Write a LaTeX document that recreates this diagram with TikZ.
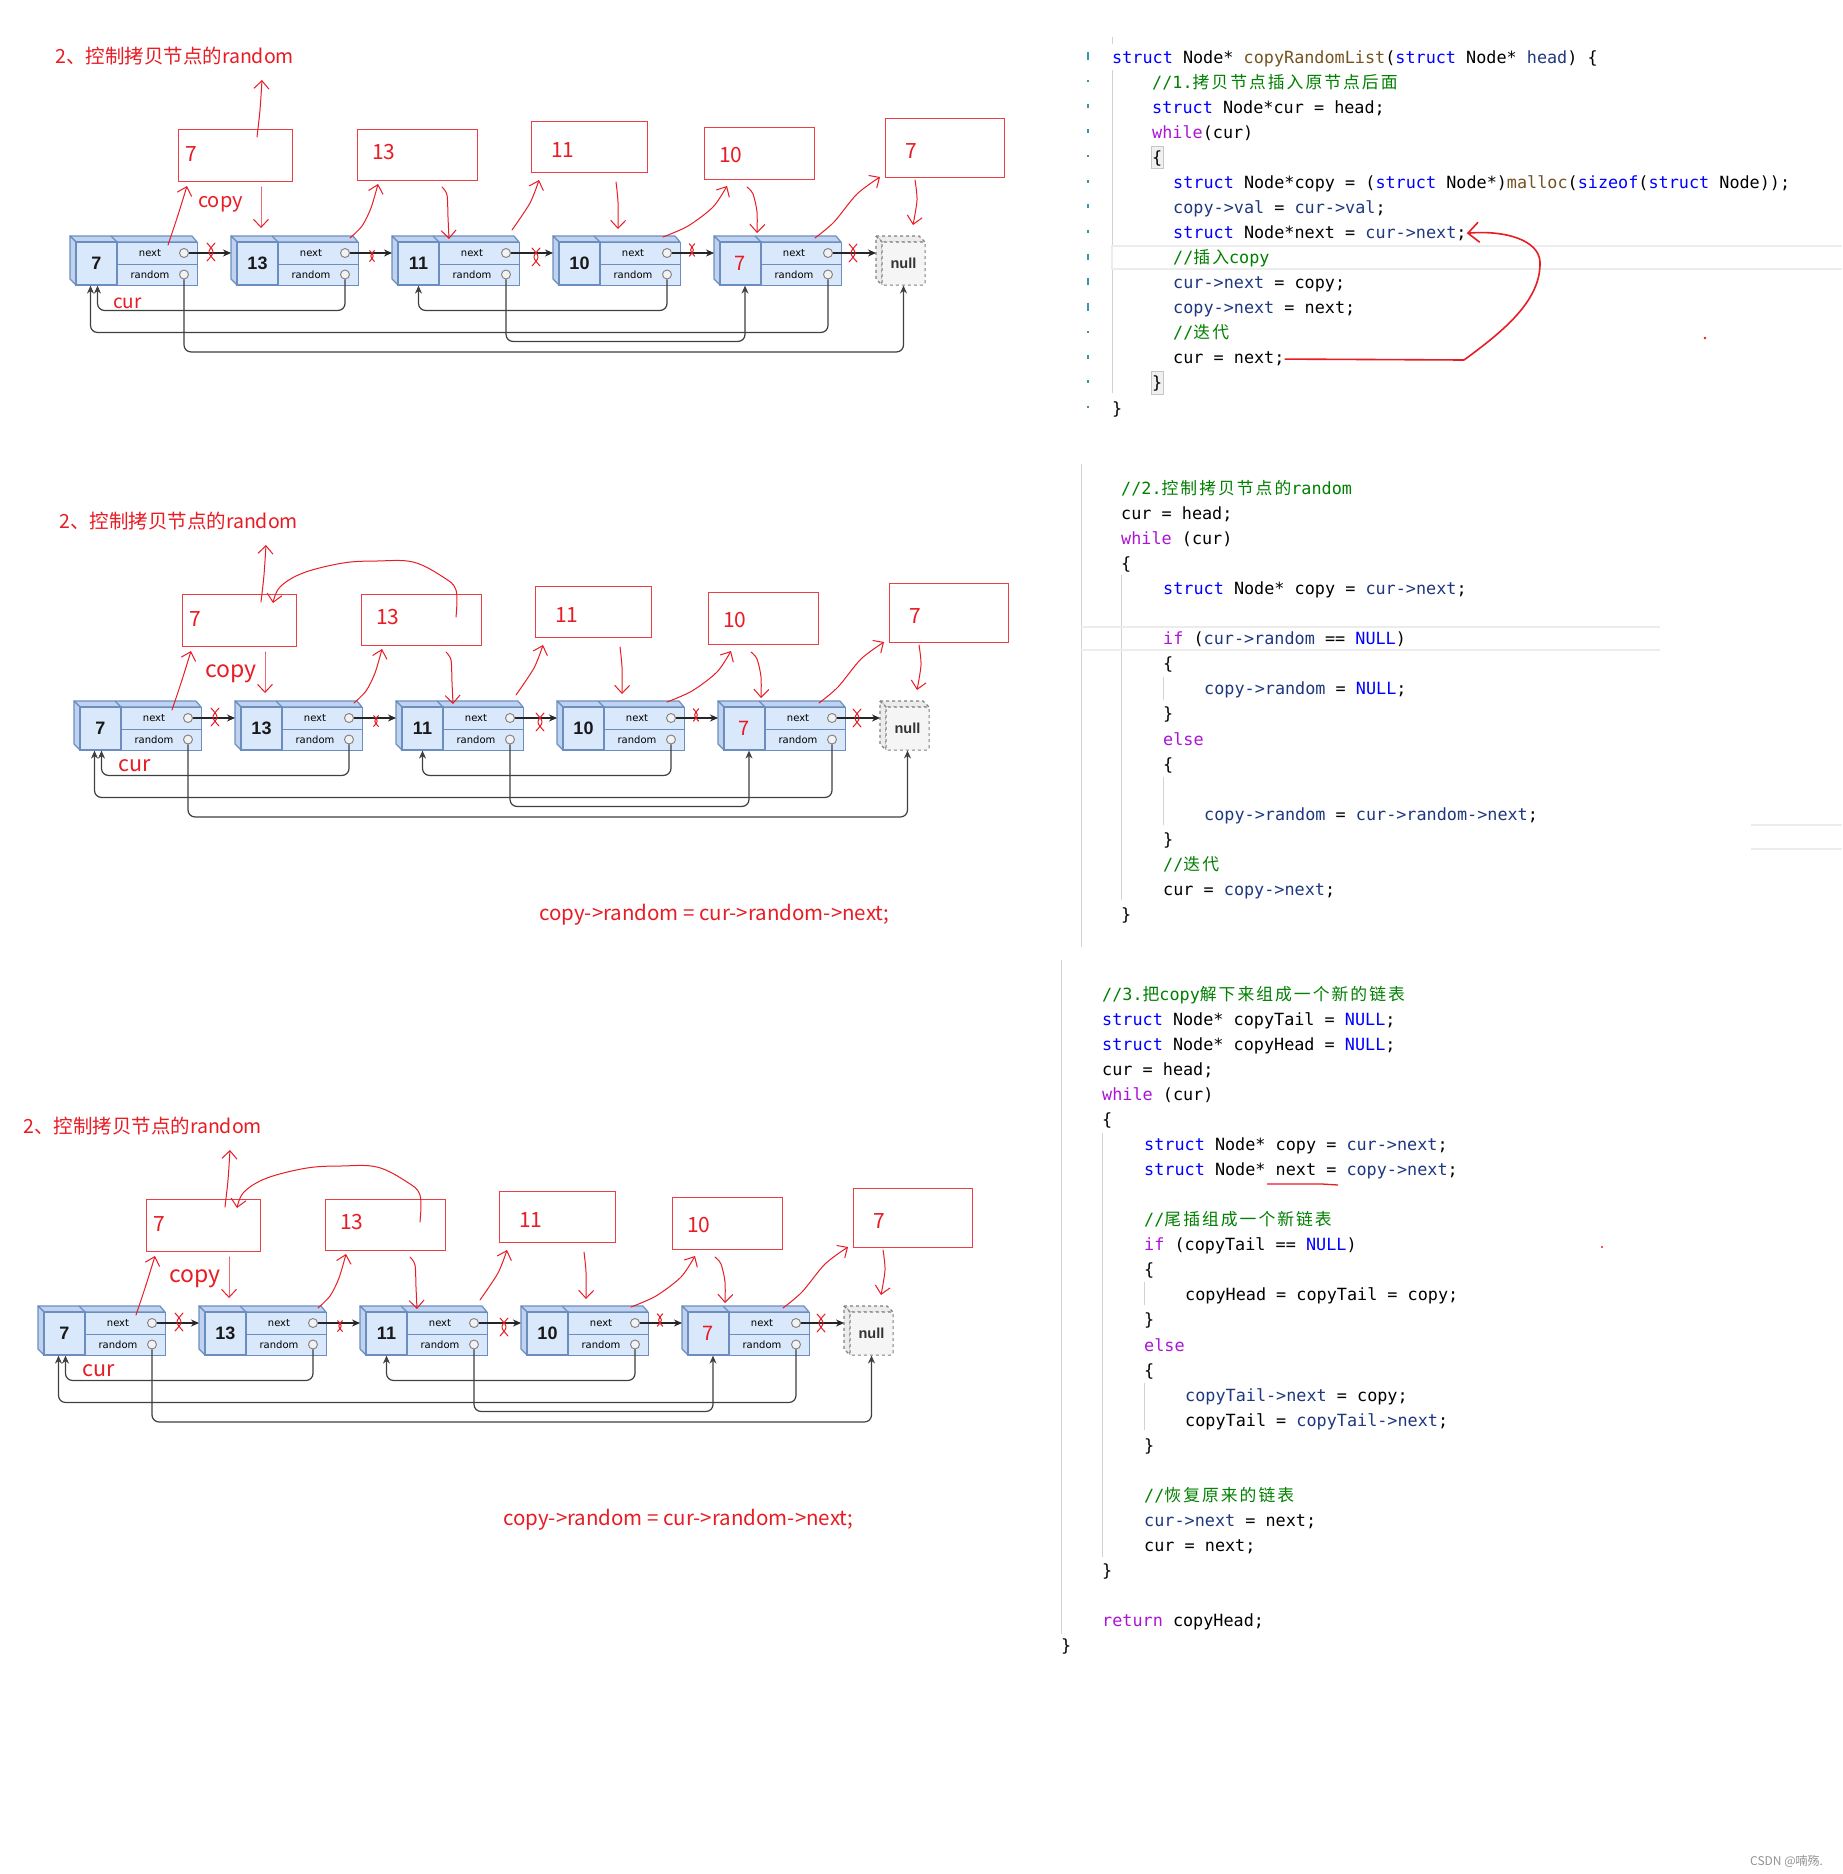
\documentclass[tikz,border=0pt]{standalone}
\usepackage{fontspec}
\usetikzlibrary{arrows.meta,calc}

\newfontfamily\codefont{DejaVu Sans Mono}
\newfontfamily\codecjk[LetterSpace=12]{Noto Sans CJK SC}
\newfontfamily\annfont{Noto Sans CJK SC}
\newfontfamily\cellfont{DejaVu Sans}
\newfontfamily\numfont{Liberation Sans}

\definecolor{annot}{RGB}{232,28,36}
\definecolor{nodefill}{HTML}{DAE8FC}
\definecolor{nodeside}{HTML}{BFD3F0}
\definecolor{nodeedge}{HTML}{6C8EBF}
\definecolor{kwblue}{RGB}{0,0,255}
\definecolor{varblue}{RGB}{31,55,127}
\definecolor{ctlpurple}{RGB}{170,20,215}
\definecolor{cmgreen}{RGB}{0,128,0}
\definecolor{fnbrown}{RGB}{116,83,31}
\definecolor{gutter}{RGB}{60,150,170}

% code colouring
\newcommand{\ckw}[1]{\textcolor{kwblue}{#1}}
\newcommand{\cctl}[1]{\textcolor{ctlpurple}{#1}}
\newcommand{\cvar}[1]{\textcolor{varblue}{#1}}
\newcommand{\ccm}[1]{\textcolor{cmgreen}{#1}}
\newcommand{\cfn}[1]{\textcolor{fnbrown}{#1}}
\newcommand{\czh}[1]{{\codecjk #1}}

% one list with its copies, #1 = name prefix
\newcommand{\linkedlist}[1]{%
  \foreach \val/\vsty [count=\i] in {7/valnum,13/valnum,11/valnum,10/valnum,7/valred}{%
    \pgfmathsetmacro{\X}{76+161*(\i-1)}
    \draw[face] (\X-6,236) -- (\X+116,236) -- (\X+121,242) -- (\X,242) -- cycle;
    \draw[face] (\X-6,236) -- (\X,242) -- (\X,285) -- (\X-6,279) -- cycle;
    \draw[nodeedge, line width=1.2pt] (\X+35,236) -- (\X+41,242);
    \node[valcell, \vsty] (#1v\i) at (\X+20.5,263.5) {\val};
    \node[fldcell, anchor=north west] (#1nx\i) at (\X+41,242) {};
    \node[fldcell, anchor=north west] (#1rd\i) at (\X+41,263.5) {};
    \node[fldtext] at (\X+74,253) {next};
    \node[fldtext] at (\X+74,274.5) {random};
    \node[hole] (#1nc\i) at (\X+108,253) {};
    \node[hole] (#1rc\i) at (\X+108,274.5) {};
    \coordinate (#1in\i) at (\X-6,253);
  }
  % null
  \draw[face, dashed, fill=gray!15, draw=gray] (876,236) -- (919,236) -- (925,242) -- (882,242) -- cycle;
  \draw[face, dashed, fill=gray!15, draw=gray] (876,236) -- (882,242) -- (882,285) -- (876,279) -- cycle;
  \node[nullbox] (#1null) at (903.5,263.5) {null};
  \coordinate (#1in6) at (876,253);
  % next pointers
  \foreach \i/\j in {1/2,2/3,3/4,4/5}
    \draw[nextarrow] (#1nc\i.east) -- (#1in\j);
  \draw[nextarrow, line width=1.6pt] (#1nc5.east) -- (#1in6);
  % random pointers
  \draw[randarrow] (#1rc2.south) -- ++(0,31) -| ([xshift=1pt]#1v1.south);
  \draw[randarrow] (#1rc1.south) -- ++(0,72.5) -| (#1null.south);
  \draw[randarrow] (#1rc5.south) -- ++(0,53) -| ([xshift=-6pt]#1v1.south);
  \draw[randarrow] (#1rc3.south) -- ++(0,62) -| ([xshift=4.5pt]#1v5.south);
  \draw[randarrow] (#1rc4.south) -- ++(0,31) -| (#1v3.south);
  % copies
  \node[cpbox, minimum width=114pt, minimum height=52pt] (#1c1) at (235,155) {};
  \node[cpbox, minimum width=120pt, minimum height=51pt] (#1c2) at (417,154.5) {};
  \node[cpbox, minimum width=116pt, minimum height=51pt] (#1c3) at (589,146.5) {};
  \node[cpbox, minimum width=110pt, minimum height=52pt] (#1c4) at (759,153) {};
  \node[cpbox, minimum width=119pt, minimum height=59pt] (#1c5) at (944.5,147.5) {};
  \node[cptext] at (185,161) {7};
  \node[cptext] at (372,159) {13};
  \node[cptext] at (551,157) {11};
  \node[cptext] at (719,162) {10};
  \node[cptext] at (905,158) {7};
  % hand strokes
  \draw[handarr] plot[smooth] coordinates {(257,137) (260,110) (262,80)};
  \draw[handarr] plot[smooth] coordinates {(261,187) (261,205) (261,228)};
  \draw[handarr] plot[smooth] coordinates {(168,245) (178,215) (187,186)};
  \draw[handarr] plot[smooth] coordinates {(350,238) (362,226) (371,208) (378,184)};
  \draw[handarr] plot[smooth] coordinates {(442,187) (447,195) (448,217) (449,239)};
  \draw[handarr] plot[smooth] coordinates {(512,230) (530,203) (539,180)};
  \draw[handarr] plot[smooth] coordinates {(616,182) (618,202) (618,229)};
  \draw[handarr] plot[smooth] coordinates {(663,237) (688,226) (713,207) (727,186)};
  \draw[handarr] plot[smooth] coordinates {(747,187) (753,194) (757,212) (757,233)};
  \draw[handarr] plot[smooth] coordinates {(815,238) (834,222) (857,194) (880,177)};
  \draw[handarr] plot[smooth] coordinates {(915,180) (917,200) (913,225)};
  \pic at (211,252) {redcut};
  \pic[scale=0.6] at (372,256) {redcut};
  \pic at (536,257) {redcut};
  \pic[scale=0.7] at (692,250) {redcut};
  \pic at (853,253) {redcut};
  \node[title] (#1title) at (55,63) {2、控制拷贝节点的random};
}

\begin{document}
\begin{tikzpicture}[x=1pt, y=-1pt,
  face/.style={fill=nodeside, draw=nodeedge, line width=1.2pt, line join=round},
  valcell/.style={draw=nodeedge, fill=nodefill, line width=1.2pt, minimum width=41pt, minimum height=43pt, inner sep=0pt},
  valnum/.style={font=\numfont\fontsize{18}{18}\selectfont\bfseries, text=black!90},
  valred/.style={font=\annfont\fontsize{20}{20}\selectfont, text=annot},
  fldcell/.style={draw=nodeedge, fill=nodefill, line width=1.2pt, minimum width=80pt, minimum height=21.5pt, inner sep=0pt},
  fldtext/.style={font=\cellfont\fontsize{10}{10}\selectfont, inner sep=0pt},
  hole/.style={circle, draw=gray, fill=gray!10, line width=0.9pt, minimum size=9pt, inner sep=0pt},
  nullbox/.style={draw=gray, dashed, fill=gray!8, line width=1pt, rounded corners=2pt, minimum width=43pt, minimum height=43pt, inner sep=0pt, font=\numfont\fontsize{14.5}{14.5}\selectfont\bfseries, text=black!80},
  nextarrow/.style={draw=black!85, line width=1.1pt, -{Stealth[length=8pt,width=7pt]}},
  randarrow/.style={draw=black!75, line width=1.2pt, rounded corners=7pt, -{Stealth[length=8pt,width=7pt]}},
  cpbox/.style={draw=annot!85, line width=1pt, inner sep=0pt},
  cptext/.style={font=\annfont\fontsize{21}{21}\selectfont, text=annot, inner sep=0pt, anchor=base west},
  lbl/.style={text=annot, inner sep=0pt, anchor=base west},
  title/.style={font=\annfont\fontsize{19.5}{19.5}\selectfont, text=annot, inner sep=0pt, anchor=base west},
  hand/.style={draw=annot, line width=1pt, line cap=round, line join=round},
  handarr/.style={hand, -{Straight Barb[length=8pt,width=15pt]}},
  redcut/.pic={\draw[hand] (-4,-9) .. controls (4,0) .. (-4,9);
                \draw[hand] (4,-9) .. controls (-4,0) .. (4,9);},
  code/.style={font=\codefont\fontsize{16.8}{16.8}\selectfont, inner sep=0pt, anchor=base west},
  guide/.style={draw=gray!35, line width=1pt},
  curline/.style={draw=gray!15, line width=2pt},
]
\fill[white] (0,0) rectangle (1842,1874);
\useasboundingbox (0,0) rectangle (1842,1874);

% ---- list 1
\begin{scope}
  \linkedlist{a}
  \node[lbl, font=\annfont\fontsize{20}{20}\selectfont] (acopy) at (198,207) {copy};
  \node[lbl, font=\annfont\fontsize{19}{19}\selectfont] (acur) at (113,308) {cur};
\end{scope}

% ---- list 2
\begin{scope}[shift={(4,465)}]
  \linkedlist{b}
  \node[lbl, font=\annfont\fontsize{23}{23}\selectfont] (bcopy) at (201,212) {copy};
  \node[lbl, font=\annfont\fontsize{21.5}{21.5}\selectfont] (bcur) at (114,306) {cur};
  \draw[handarr] plot[smooth, tension=0.6] coordinates {(452,152) (452,125) (439,112) (409,97) (373,96) (339,98) (299,108) (276,122) (269,138)};
  \node[lbl, font=\annfont\fontsize{20.5}{20.5}\selectfont] (bnote) at (535,455) {copy->random = cur->random->next;};
\end{scope}

% ---- list 3
\begin{scope}[shift={(-32,1070)}]
  \linkedlist{c}
  \node[lbl, font=\annfont\fontsize{23}{23}\selectfont] (ccopy) at (201,212) {copy};
  \node[lbl, font=\annfont\fontsize{21.5}{21.5}\selectfont] (ccur) at (114,306) {cur};
  \draw[handarr] plot[smooth, tension=0.6] coordinates {(452,152) (452,125) (439,112) (409,97) (373,96) (339,98) (299,108) (276,122) (269,138)};
  \node[lbl, font=\annfont\fontsize{20.5}{20.5}\selectfont] (cnote) at (535,455) {copy->random = cur->random->next;};
\end{scope}

% ---- code 1
\draw[guide] (1112,37) -- (1112,44) (1112,70) -- (1112,393);
\draw[curline] (1842,246) -- (1112,246) -- (1112,269) -- (1842,269);
\draw[fill=gray!12, draw=gray!45] (1151,146) rectangle (1163,168);
\draw[fill=gray!12, draw=gray!45] (1151,371) rectangle (1163,394);
\foreach \k/\h in {1/8,2/2,3/4,4/4,5/2,6/3,7/4,8/3,9/6,10/7,11/8,12/2,13/4,14/3,15/2}
  \draw[gutter, line width=1.2pt] (1088,{56+25.07*(\k-1)-\h/2}) -- ++(0,\h);
\node[code] (p1l1) at (1112,63) {\ckw{struct} Node* \cfn{copyRandomList}(\ckw{struct} Node* \cvar{head}) \{};
\node[code] (p1l2) at (1152,88.1) {\ccm{//1.\czh{拷贝节点插入原节点后面}}};
\node[code] (p1l3) at (1152,113.1) {\ckw{struct} Node*cur = head;};
\node[code] (p1l4) at (1152,138.2) {\cctl{while}(cur)};
\node[code] (p1l5) at (1152,163.3) {\{};
\node[code] (p1l6) at (1173,188.4) {\ckw{struct} Node*copy = (\ckw{struct} Node*)\cfn{malloc}(\ckw{sizeof}(\ckw{struct} Node));};
\node[code] (p1l7) at (1173,213.4) {\cvar{copy->val} = \cvar{cur->val};};
\node[code] (p1l8) at (1173,238.5) {\ckw{struct} Node*next = \cvar{cur->next};};
\node[code] (p1l9) at (1173,263.6) {\ccm{//\czh{插入}copy}};
\node[code] (p1l10) at (1173,288.6) {\cvar{cur->next} = copy;};
\node[code] (p1l11) at (1173,313.7) {\cvar{copy->next} = next;};
\node[code] (p1l12) at (1173,338.8) {\ccm{//\czh{迭代}}};
\node[code] (p1l13) at (1173,363.8) {cur = next;};
\node[code] (p1l14) at (1152,388.9) {\}};
\node[code] (p1l15) at (1112,414) {\}};
\draw[annot, line width=1.6pt, line join=round, -{Straight Barb[length=11pt,width=20pt]}]
  (p1l13.east) -- (1464,360) .. controls (1505,330) and (1541,300) .. (1540,262)
  .. controls (1539,240) and (1505,230) .. (p1l8.east);
\fill[annot] (1705,338) circle (1.3);

% ---- code 2
\draw[guide] (1081,464) -- (1081,947);
\draw[guide] (1121,575) -- (1121,900);
\draw[guide] (1163,677) -- (1163,700) (1163,777) -- (1163,825);
\draw[curline] (1081,627) -- (1660,627) (1081,650) -- (1660,650);
\draw[curline] (1751,825) -- (1842,825) (1751,849) -- (1842,849);
\node[code] (p2l1) at (1121,494) {\ccm{//2.\czh{控制拷贝节点的}random}};
\node[code] (p2l2) at (1121,519.1) {cur = head;};
\node[code] (p2l3) at (1121,544.2) {\cctl{while} (cur)};
\node[code] (p2l4) at (1121,569.3) {\{};
\node[code] (p2l5) at (1163,594.4) {\ckw{struct} Node* copy = \cvar{cur->next};};
\node[code] (p2l7) at (1163,644.6) {\cctl{if} (\cvar{cur->random} == \ckw{NULL})};
\node[code] (p2l8) at (1163,669.7) {\{};
\node[code] (p2l9) at (1204,694.8) {\cvar{copy->random} = \ckw{NULL};};
\node[code] (p2l10) at (1163,719.9) {\}};
\node[code] (p2l11) at (1163,745) {\cctl{else}};
\node[code] (p2l12) at (1163,770.1) {\{};
\node[code] (p2l14) at (1204,820.3) {\cvar{copy->random} = \cvar{cur->random->next};};
\node[code] (p2l15) at (1163,845.4) {\}};
\node[code] (p2l16) at (1163,870.5) {\ccm{//\czh{迭代}}};
\node[code] (p2l17) at (1163,895.6) {cur = \cvar{copy->next};};
\node[code] (p2l18) at (1121,920.7) {\}};

% ---- code 3
\draw[guide] (1061,960) -- (1061,1634);
\draw[guide] (1102,1133) -- (1102,1557);
\draw[guide] (1144,1282) -- (1144,1305) (1144,1383) -- (1144,1430);
\node[code] (p3l1) at (1102,1000) {\ccm{//3.\czh{把}copy\czh{解下来组成一个新的链表}}};
\node[code] (p3l2) at (1102,1025.1) {\ckw{struct} Node* copyTail = \ckw{NULL};};
\node[code] (p3l3) at (1102,1050.1) {\ckw{struct} Node* copyHead = \ckw{NULL};};
\node[code] (p3l4) at (1102,1075.2) {cur = head;};
\node[code] (p3l5) at (1102,1100.3) {\cctl{while} (cur)};
\node[code] (p3l6) at (1102,1125.4) {\{};
\node[code] (p3l7) at (1144,1150.4) {\ckw{struct} Node* copy = \cvar{cur->next};};
\node[code] (p3l8) at (1144,1175.5) {\ckw{struct} Node* next = \cvar{copy->next};};
\node[code] (p3l10) at (1144,1225.6) {\ccm{//\czh{尾插组成一个新链表}}};
\node[code] (p3l11) at (1144,1250.7) {\cctl{if} (copyTail == \ckw{NULL})};
\node[code] (p3l12) at (1144,1275.8) {\{};
\node[code] (p3l13) at (1185,1300.8) {copyHead = copyTail = copy;};
\node[code] (p3l14) at (1144,1325.9) {\}};
\node[code] (p3l15) at (1144,1351) {\cctl{else}};
\node[code] (p3l16) at (1144,1376) {\{};
\node[code] (p3l17) at (1185,1401.1) {\cvar{copyTail->next} = copy;};
\node[code] (p3l18) at (1185,1426.2) {copyTail = \cvar{copyTail->next};};
\node[code] (p3l19) at (1144,1451.3) {\}};
\node[code] (p3l21) at (1144,1501.4) {\ccm{//\czh{恢复原来的链表}}};
\node[code] (p3l22) at (1144,1526.5) {\cvar{cur->next} = next;};
\node[code] (p3l23) at (1144,1551.6) {cur = next;};
\node[code] (p3l24) at (1102,1576.6) {\}};
\node[code] (p3l26) at (1102,1626.8) {\cctl{return} copyHead;};
\node[code] (p3l27) at (1061,1651.8) {\}};
\draw[annot, line width=1.3pt] (1267,1184) -- (1322,1184) -- (1338,1185);
\fill[annot] (1602,1247) circle (1.2);

\node[anchor=base west, inner sep=0pt, font=\annfont\fontsize{12}{12}\selectfont, text=gray!85] (mark) at (1750,1865) {CSDN @喃殇.};
\end{tikzpicture}
\end{document}
